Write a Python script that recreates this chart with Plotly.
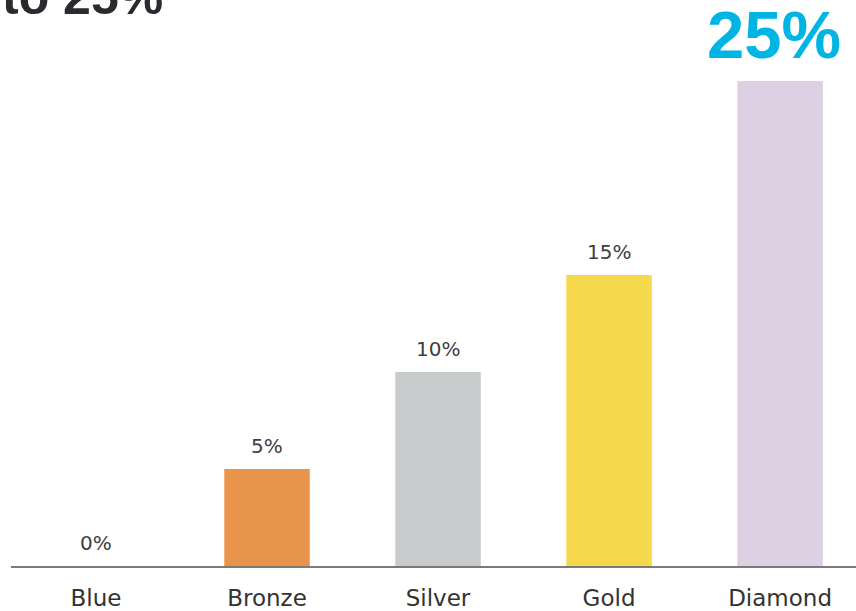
import plotly.graph_objects as go

# Tier discount levels
tiers = ["Blue", "Bronze", "Silver", "Gold", "Diamond"]
discounts = [0, 5, 10, 15, 25]
bar_colors = ["#2F7FC1", "#E9944B", "#C8CBCB", "#F5D84B", "#DDD0E2"]
value_labels = ["0%", "5%", "10%", "15%", "25%"]
headline = "to 25%"

fig = go.Figure(
    go.Bar(
        x=tiers,
        y=discounts,
        marker=dict(color=bar_colors, line=dict(width=0)),
        width=0.5,
        hoverinfo="skip",
    )
)

# Value labels above each bar; the top tier gets the large highlighted label
for i, (tier, val, lab) in enumerate(zip(tiers, discounts, value_labels)):
    if i == len(tiers) - 1:
        fig.add_annotation(
            x=tier, y=val, text=f"<b>{lab}</b>", showarrow=False,
            xanchor="center", yanchor="bottom", yshift=7, xshift=-6,
            font=dict(family="Liberation Sans", size=67, color="#00B4E3"),
        )
    else:
        fig.add_annotation(
            x=tier, y=val, text=lab, showarrow=False,
            xanchor="center", yanchor="middle", yshift=23,
            font=dict(family="DejaVu Sans", size=20, color="#404040"),
        )

# Headline text running off the top edge
fig.add_annotation(
    xref="paper", yref="paper", x=-11 / 845, y=(566 - 27) / 566,
    text=f"<b>{headline}</b>", showarrow=False,
    xanchor="left", yanchor="bottom",
    font=dict(family="Liberation Sans", size=50, color="#2B2B2F"),
)

fig.update_layout(
    width=856, height=611,
    margin=dict(l=11, r=0, t=0, b=45, autoexpand=False),
    paper_bgcolor="white", plot_bgcolor="white",
    showlegend=False,
    xaxis=dict(
        range=[-0.497, 4.444],
        showline=True, linecolor="#7A7A7A", linewidth=2,
        showgrid=False, zeroline=False, ticks="",
        automargin=False,
        ticklabelstandoff=10,
        tickfont=dict(family="DejaVu Sans", size=23, color="#333333"),
        fixedrange=True,
    ),
    yaxis=dict(
        range=[0, 566 / 19.4],
        visible=False, showgrid=False, zeroline=False, fixedrange=True,
    ),
)

fig.write_html("out.html")
